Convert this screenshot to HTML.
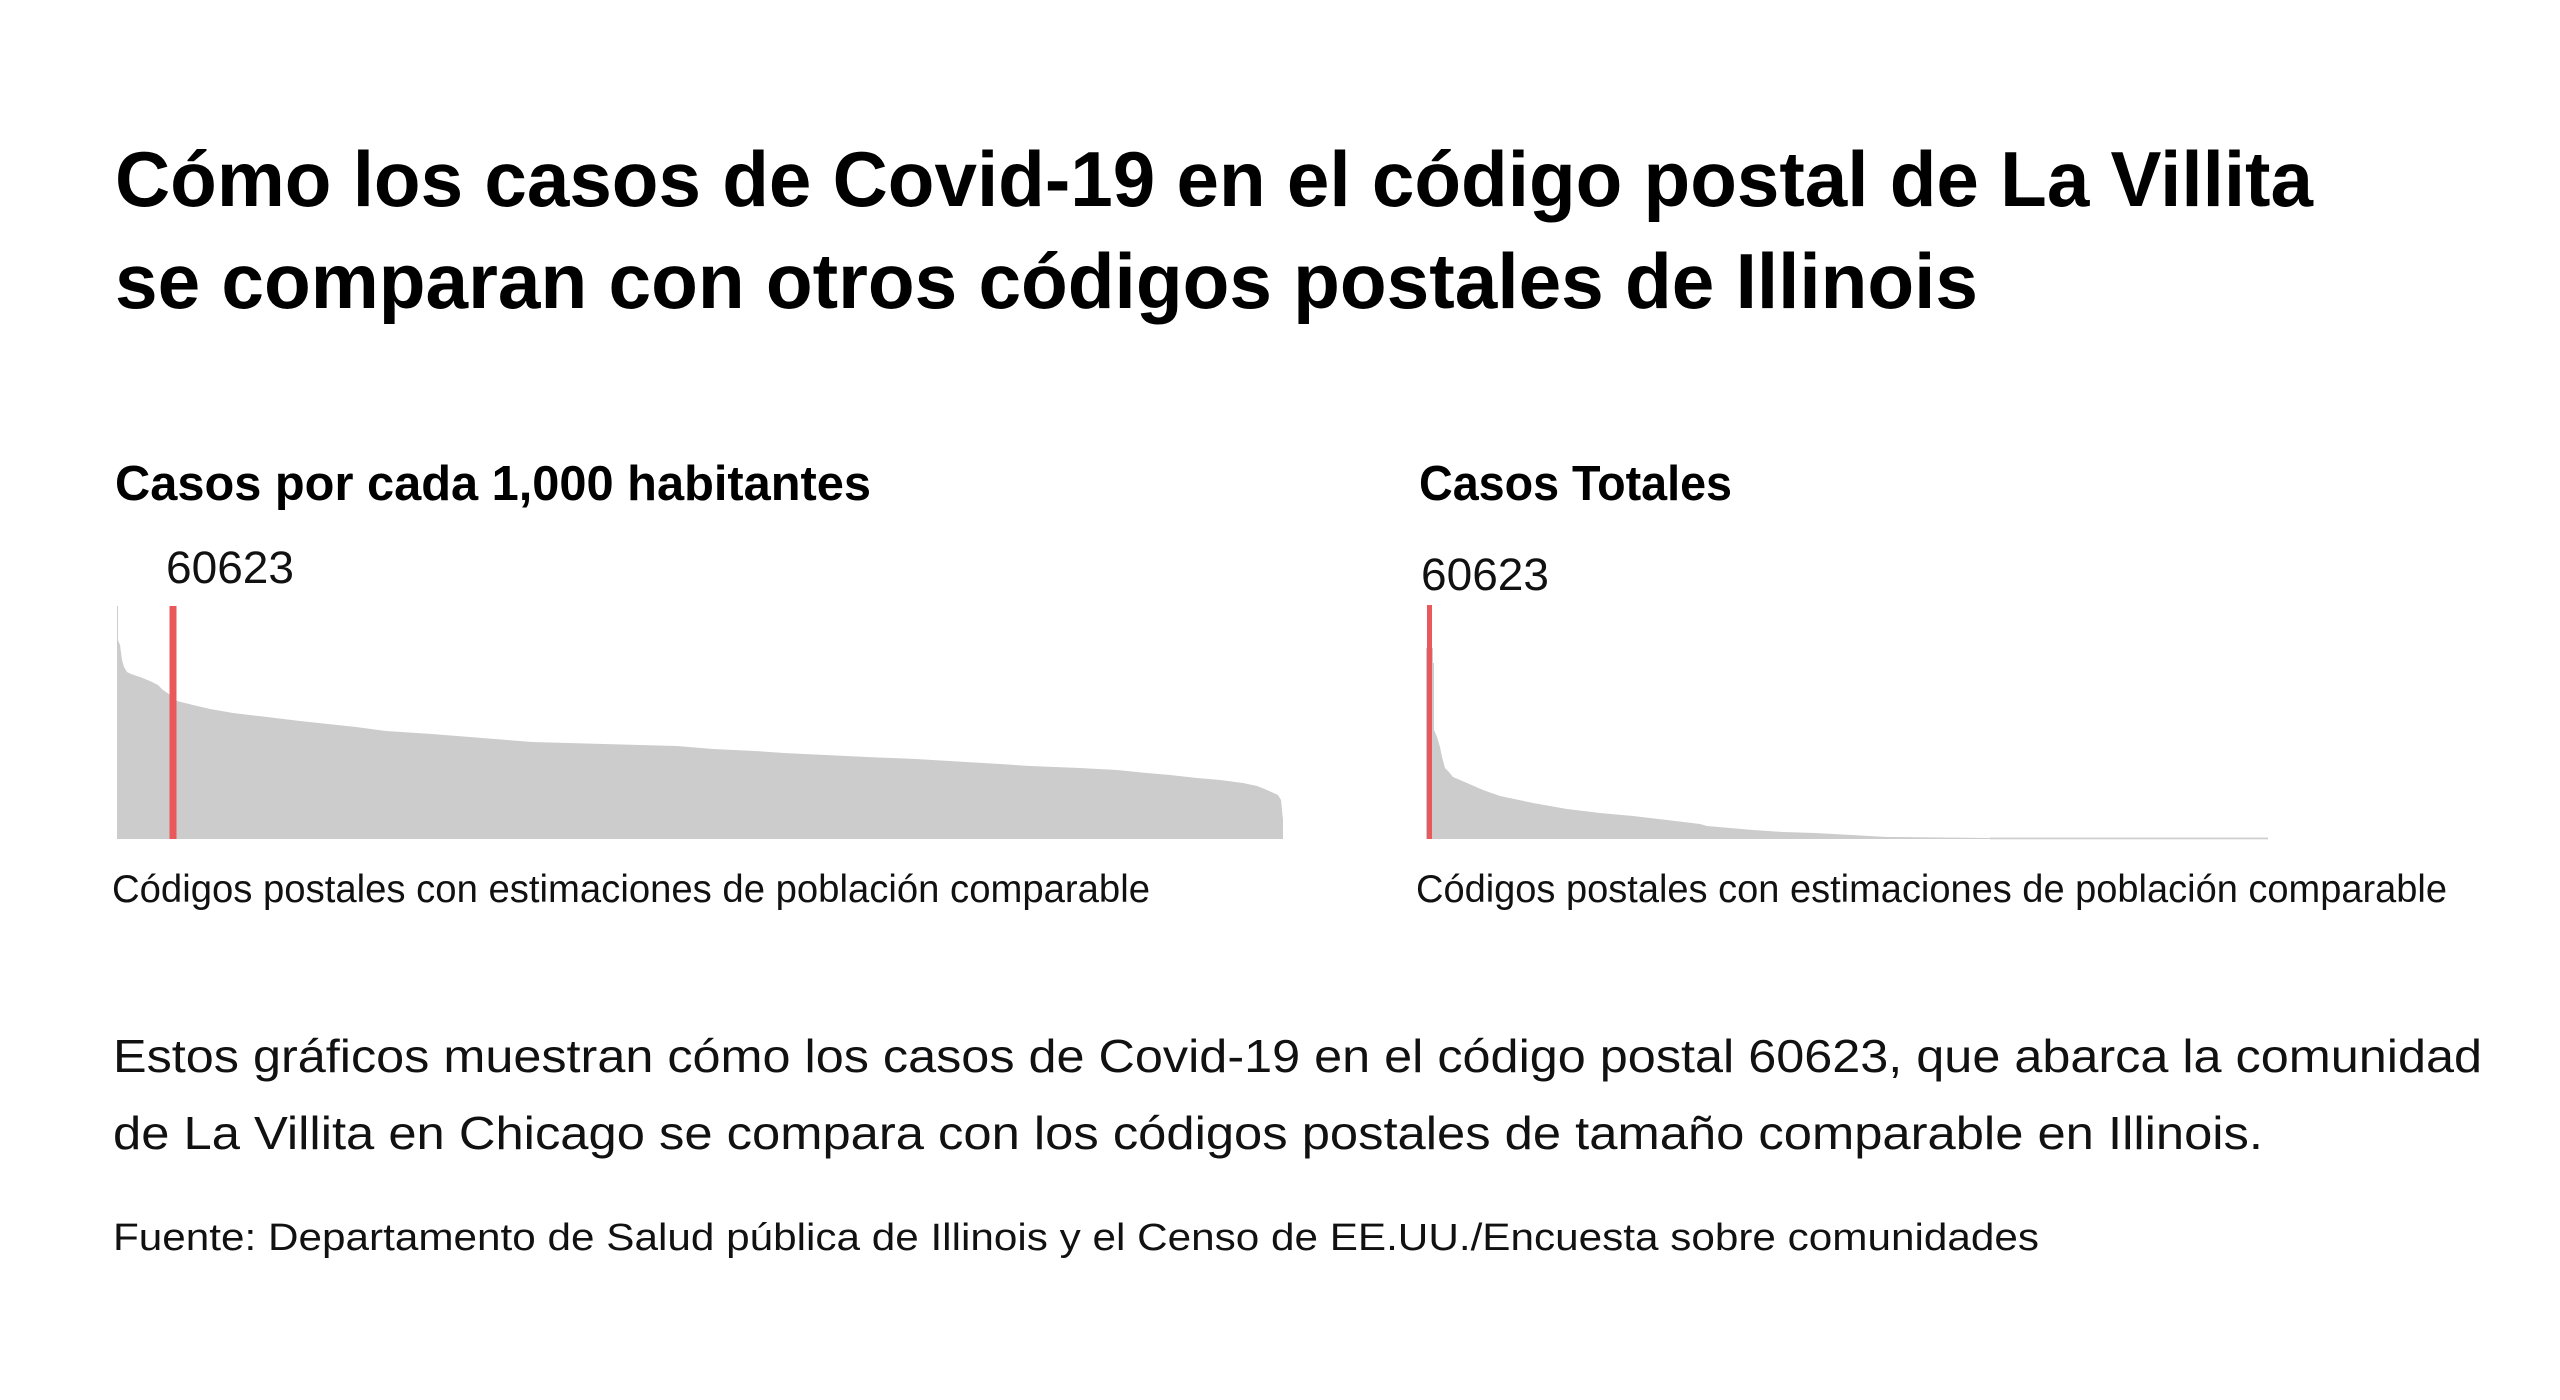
<!DOCTYPE html>
<html>
<head>
<meta charset="utf-8">
<style>
  html, body { margin: 0; padding: 0; background: #ffffff; }
  svg { display: block; }
  text { font-family: "Liberation Sans", "DejaVu Sans", sans-serif; fill: #111111; }
  .b { font-weight: bold; fill: #000000; }
</style>
</head>
<body>
<svg width="2560" height="1400" viewBox="0 0 2560 1400" xmlns="http://www.w3.org/2000/svg">
  <rect x="0" y="0" width="2560" height="1400" fill="#ffffff"/>

  <!-- Title -->
  <text class="b" x="115" y="206" font-size="78" textLength="2198" lengthAdjust="spacingAndGlyphs">Cómo los casos de Covid-19 en el código postal de La Villita</text>
  <text class="b" x="115" y="308" font-size="78" textLength="1863" lengthAdjust="spacingAndGlyphs">se comparan con otros códigos postales de Illinois</text>

  <!-- Chart titles -->
  <text class="b" x="115" y="500" font-size="49" textLength="756" lengthAdjust="spacingAndGlyphs">Casos por cada 1,000 habitantes</text>
  <text class="b" x="1419" y="500" font-size="49" textLength="313" lengthAdjust="spacingAndGlyphs">Casos Totales</text>

  <!-- 60623 labels -->
  <text x="166" y="583" font-size="45" textLength="128" lengthAdjust="spacingAndGlyphs">60623</text>
  <text x="1421" y="590" font-size="45" textLength="128" lengthAdjust="spacingAndGlyphs">60623</text>

  <!-- Left chart area -->
  <path fill="#cccccc" d="M117,839 L117,606 L118,606 L118,640 L120,645 L122,660 L124,667 L127,672 L131,674 L140,677 L150,681 L158,685 L163,690 L169,694 L177,701 L185,703 L193,705 L210,709 L233,713 L267,717 L300,721 L356,727 L386,731 L432,734 L482,738 L532,742 L604,744 L677,746 L713,749 L755,751 L784,753 L867,757 L916,759 L966,762 L1000,764 L1030,766 L1080,768 L1117,770 L1147,773 L1170,775 L1197,778 L1220,780 L1243,783 L1257,786 L1267,790 L1278,795 L1281,800 L1282,810 L1283,820 L1283,839 Z"/>
  <rect x="169.5" y="606" width="7" height="233" fill="#e9585b"/>

  <!-- Right chart area -->
  <path fill="#cccccc" d="M1426,839 L1426,648 L1433,648 L1433,663 L1434,663 L1434,730 L1437,737 L1440,747 L1442,757 L1445,768 L1448,771 L1453,777 L1467,783 L1483,790 L1500,796 L1533,803 L1567,809 L1600,813 L1633,816 L1667,820 L1700,824 L1707,826 L1730,828 L1753,830 L1783,832 L1815,833 L1852,835 L1887,837 L1990,838 L1990,839 Z"/>
  <rect x="1990" y="837.5" width="278" height="1.8" fill="#d0d0d0"/>
  <rect x="1427" y="605" width="5" height="234" fill="#e9585b"/>

  <!-- X-axis labels -->
  <text x="112" y="902" font-size="39" textLength="1038" lengthAdjust="spacingAndGlyphs">Códigos postales con estimaciones de población comparable</text>
  <text x="1416" y="902" font-size="39" textLength="1031" lengthAdjust="spacingAndGlyphs">Códigos postales con estimaciones de población comparable</text>

  <!-- Description -->
  <text x="113" y="1072" font-size="46" textLength="2369" lengthAdjust="spacingAndGlyphs">Estos gráficos muestran cómo los casos de Covid-19 en el código postal 60623, que abarca la comunidad</text>
  <text x="113" y="1149" font-size="46" textLength="2150" lengthAdjust="spacingAndGlyphs">de La Villita en Chicago se compara con los códigos postales de tamaño comparable en Illinois.</text>

  <!-- Source -->
  <text x="113" y="1250" font-size="38" textLength="1926" lengthAdjust="spacingAndGlyphs">Fuente: Departamento de Salud pública de Illinois y el Censo de EE.UU./Encuesta sobre comunidades</text>
</svg>
</body>
</html>
